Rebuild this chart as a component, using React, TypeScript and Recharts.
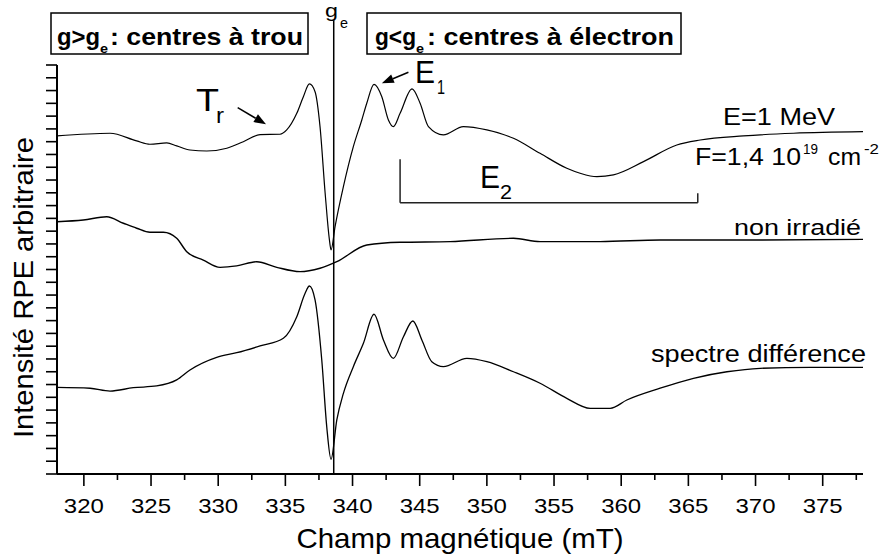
import React from 'react';
import { LineChart, Line, XAxis, YAxis, ReferenceLine } from 'recharts';

// Champ magnétique (mT) / intensité RPE (unités arbitraires, 1 = un pas de graduation)
const IRR_FIELD = [318.0, 321.95, 323.93, 324.92, 326.17, 326.91, 327.9, 329.15, 330.64, 331.87, 333.12, 334.6, 335.1, 335.85, 336.34, 336.79, 337.21, 337.58, 337.96, 338.28, 338.4, 338.7, 339.32, 340.06, 340.69, 341.06, 341.6, 342.18, 342.67, 343.04, 343.54, 344.43, 345.03, 345.65, 346.76, 348.25, 350.0, 351.98, 353.96, 355.95, 356.94, 358.19, 359.42, 361.66, 364.14, 365.88, 369.1, 372.83, 378.0];
const IRR_INT = [26.45, 26.66, 26.06, 25.8, 25.9, 25.67, 25.35, 25.27, 25.49, 26.0, 26.55, 26.58, 26.92, 28.22, 29.52, 30.52, 29.91, 27.18, 21.99, 18.31, 17.53, 19.35, 22.48, 25.61, 27.7, 29.01, 30.49, 29.52, 27.7, 27.18, 28.22, 30.13, 29.01, 27.18, 26.53, 27.18, 26.92, 26.27, 25.09, 23.92, 23.53, 23.26, 23.4, 24.44, 25.74, 26.13, 26.45, 26.66, 26.78];

const NON_FIELD = [318.0, 319.96, 321.7, 322.94, 323.93, 324.92, 325.92, 326.91, 327.66, 328.89, 330.14, 331.38, 332.87, 334.36, 336.09, 337.58, 338.83, 341.06, 343.54, 347.26, 351.98, 353.96, 358.43, 362.9, 370.35, 378.0];
const NON_INT = [19.74, 19.87, 20.13, 19.62, 19.23, 18.91, 18.91, 18.44, 17.39, 16.74, 16.17, 16.28, 16.61, 16.17, 15.83, 16.1, 16.61, 17.92, 18.13, 18.18, 18.44, 18.18, 18.18, 18.31, 18.31, 18.36];

const DIFF_FIELD = [318.0, 320.46, 321.95, 323.68, 325.42, 326.91, 327.9, 329.89, 331.38, 333.12, 334.85, 335.85, 336.47, 336.79, 337.21, 337.71, 338.08, 338.4, 338.83, 339.32, 340.06, 340.81, 341.6, 342.3, 343.04, 343.79, 344.49, 345.16, 345.9, 346.76, 348.51, 350.0, 351.98, 353.96, 355.95, 357.69, 359.18, 360.42, 362.9, 365.38, 367.87, 370.35, 374.07, 378.0];
const DIFF_INT = [6.78, 6.71, 6.49, 6.75, 6.89, 7.36, 8.14, 9.13, 9.49, 10.02, 10.62, 12.31, 14.14, 14.71, 13.62, 8.92, 3.7, 1.15, 4.23, 6.31, 8.4, 10.23, 12.5, 10.49, 9.05, 10.74, 11.97, 10.49, 8.79, 8.4, 9.05, 8.79, 8.0, 7.1, 5.92, 5.14, 5.14, 5.79, 6.71, 7.49, 8.0, 8.27, 8.35, 8.35];

const X_TICKS = [320, 322.5, 325, 327.5, 330, 332.5, 335, 337.5, 340, 342.5, 345, 347.5, 350, 352.5, 355, 357.5, 360, 362.5, 365, 367.5, 370, 372.5, 375, 377.5];
const Y_TICKS = Array.from({ length: 33 }, (_, i) => i);

const G_E = 338.6;

const FONT = '"Liberation Sans", Arial, sans-serif';

const toRows = (fields: number[], values: number[]) => fields.map((b, i) => ({ b, v: values[i] }));

const irr = toRows(IRR_FIELD, IRR_INT);
const non = toRows(NON_FIELD, NON_INT);
const diff = toRows(DIFF_FIELD, DIFF_INT);

function XTick(props: any) {
  const { x, y, payload } = props;
  const major = payload.value % 5 === 0;
  return (
    <g>
      <line x1={x} y1={y} x2={x} y2={y + (major ? 12 : 6)} stroke="#000" strokeWidth={1.6} />
      {major && (
        <text x={x} y={y + 39} textAnchor="middle" fontSize={21} fontFamily={FONT} fill="#000"
          textLength={40} lengthAdjust="spacingAndGlyphs">
          {payload.value}
        </text>
      )}
    </g>
  );
}

function YTick(props: any) {
  const { x, y } = props;
  return <line x1={x - 11} y1={y} x2={x} y2={y} stroke="#000" strokeWidth={1.6} />;
}

const arrowShape = (p: any) => {
  const { x1, y1, x2, y2 } = p;
  const a = Math.atan2(y2 - y1, x2 - x1);
  const L = 12;
  const W = 4.5;
  const bx = x2 - L * Math.cos(a);
  const by = y2 - L * Math.sin(a);
  const pts = `${x2},${y2} ${bx - W * Math.sin(a)},${by + W * Math.cos(a)} ${bx + W * Math.sin(a)},${by - W * Math.cos(a)}`;
  return (
    <g>
      <line x1={x1} y1={y1} x2={bx} y2={by} stroke="#000" strokeWidth={1.5} />
      <polygon points={pts} fill="#000" />
    </g>
  );
};

function Txt({ x, y, w, size, bold, children }: any) {
  return (
    <text x={x} y={y} fontSize={size} fontWeight={bold ? 'bold' : 'normal'} fontFamily={FONT} fill="#000"
      textLength={w} lengthAdjust="spacingAndGlyphs">
      {children}
    </text>
  );
}

export default function App() {
  return (
    <div style={{ position: 'absolute', left: 0, top: 0, width: 880, height: 558, background: '#fff' }}>
      <LineChart width={880} height={558} margin={{ top: 65, right: 17, bottom: 24, left: 46 }}
        style={{ fontFamily: FONT }}>
        <XAxis type="number" dataKey="b" domain={[318, 378]} allowDataOverflow ticks={X_TICKS} interval={0}
          height={60} tickSize={0} tickMargin={0} tickLine={false} tick={(p: any) => <XTick {...p} />}
          axisLine={{ stroke: '#000', strokeWidth: 2 }} />
        <YAxis type="number" domain={[0, 32]} allowDataOverflow ticks={Y_TICKS} interval={0} width={11}
          tickSize={0} tickMargin={0} tickLine={false} tick={(p: any) => <YTick {...p} />}
          axisLine={{ stroke: '#000', strokeWidth: 2 }} />

        <Line data={irr} dataKey="v" type="monotone" stroke="#000" strokeWidth={1.2} dot={false} isAnimationActive={false} />
        <Line data={non} dataKey="v" type="monotone" stroke="#000" strokeWidth={1.4} dot={false} isAnimationActive={false} />
        <Line data={diff} dataKey="v" type="monotone" stroke="#000" strokeWidth={1.3} dot={false} isAnimationActive={false} />

        <ReferenceLine segment={[{ x: G_E, y: 0 }, { x: G_E, y: 35.5 }]} ifOverflow="visible" stroke="#000" strokeWidth={1.5} />

        <ReferenceLine segment={[{ x: 343.54, y: 24.63 }, { x: 343.54, y: 21.23 }]} ifOverflow="visible" stroke="#222" strokeWidth={1.5} />
        <ReferenceLine segment={[{ x: 343.54, y: 21.23 }, { x: 365.7, y: 21.23 }]} ifOverflow="visible" stroke="#222" strokeWidth={1.5} />
        <ReferenceLine segment={[{ x: 365.7, y: 21.23 }, { x: 365.7, y: 21.96 }]} ifOverflow="visible" stroke="#222" strokeWidth={1.5} />

        <ReferenceLine segment={[{ x: 331.45, y: 28.66 }, { x: 333.56, y: 27.36 }]} ifOverflow="visible" shape={arrowShape} />
        <ReferenceLine segment={[{ x: 344.16, y: 31.43 }, { x: 342.18, y: 30.57 }]} ifOverflow="visible" shape={arrowShape} />
      </LineChart>

      <svg width={880} height={558} style={{ position: 'absolute', left: 0, top: 0, pointerEvents: 'none' }}>
        <rect x={51} y={13} width={257} height={41} fill="#fff" stroke="#000" strokeWidth={1.5} />
        <Txt x={57} y={45} w={43} size={24} bold>g&gt;g</Txt>
        <Txt x={100} y={53} w={8} size={13} bold>e</Txt>
        <Txt x={110} y={45} w={193} size={24} bold>: centres à trou</Txt>

        <rect x={367} y={13} width={314} height={41} fill="#fff" stroke="#000" strokeWidth={1.5} />
        <Txt x={375} y={45} w={41} size={24} bold>g&lt;g</Txt>
        <Txt x={416} y={53} w={8} size={13} bold>e</Txt>
        <Txt x={427} y={45} w={247} size={24} bold>: centres à électron</Txt>

        <Txt x={325} y={17} w={13} size={19}>g</Txt>
        <Txt x={340} y={28} w={8} size={14}>e</Txt>

        <Txt x={196} y={111} w={23} size={32}>T</Txt>
        <Txt x={216} y={123} w={8} size={22}>r</Txt>

        <Txt x={415} y={83} w={20} size={32}>E</Txt>
        <Txt x={437} y={94} w={8} size={20}>1</Txt>

        <Txt x={480} y={188} w={20} size={32}>E</Txt>
        <Txt x={500} y={199} w={12} size={20}>2</Txt>

        <Txt x={723} y={125} w={112} size={24}>E=1 MeV</Txt>
        <Txt x={695} y={165} w={106} size={24}>F=1,4 10</Txt>
        <Txt x={803} y={154} w={15} size={15}>19</Txt>
        <Txt x={828} y={165} w={33} size={24}>cm</Txt>
        <Txt x={864} y={154} w={15} size={15}>-2</Txt>

        <Txt x={734} y={235} w={127} size={22}>non irradié</Txt>
        <Txt x={651} y={362} w={215} size={23}>spectre différence</Txt>

        <text x={460} y={548} textAnchor="middle" fontSize={28} fontFamily={FONT} fill="#000"
          textLength={327} lengthAdjust="spacingAndGlyphs">Champ magnétique (mT)</text>
        <text transform="translate(33, 287.5) rotate(-90)" textAnchor="middle" fontSize={28} fontFamily={FONT} fill="#000"
          textLength={301} lengthAdjust="spacingAndGlyphs">Intensité RPE arbitraire</text>
      </svg>
    </div>
  );
}
